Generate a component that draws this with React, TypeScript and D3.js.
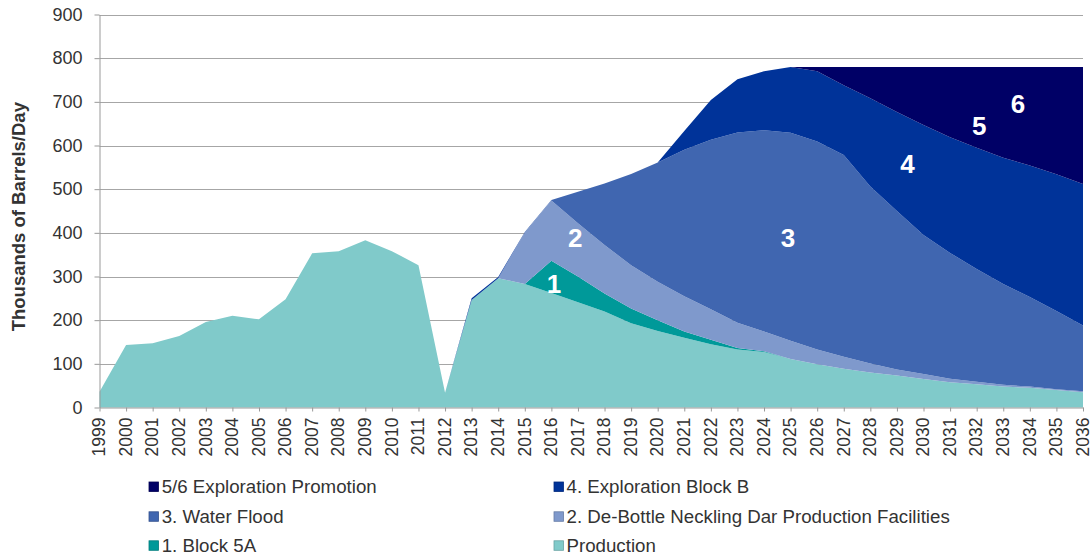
import { useEffect, useRef } from "react";
import * as d3 from "d3";

// years on the x axis
const years = [
  1999, 2000, 2001, 2002, 2003, 2004, 2005, 2006, 2007, 2008, 2009, 2010, 2011,
  2012, 2013, 2014, 2015, 2016, 2017, 2018, 2019, 2020, 2021, 2022, 2023, 2024,
  2025, 2026, 2027, 2028, 2029, 2030, 2031, 2032, 2033, 2034, 2035, 2036,
];

// thousands of barrels/day, one value per year
const production = [
  36, 143, 147, 164, 196, 210, 202, 248, 353, 358, 383, 358, 326, 34, 246, 296,
  283, 262, 241, 220, 193, 175, 160, 145, 133, 127, 111, 99, 89, 80, 73, 65, 58,
  53, 48, 45, 40, 35,
];
const block5A = [
  0, 0, 0, 0, 0, 0, 0, 0, 0, 0, 0, 0, 0, 0, 0, 0, 0, 74, 59, 41, 34, 25, 14, 10,
  3, 2, 0, 0, 0, 0, 0, 0, 0, 0, 0, 0, 0, 0,
];
const deBottle = [
  0, 0, 0, 0, 0, 0, 0, 0, 0, 0, 0, 0, 0, 0, 0, 0, 117, 138, 122, 111, 99, 88, 81,
  70, 58, 45, 42, 34, 27, 21, 14, 12, 8, 6, 4, 3, 2, 2,
];
const waterFlood = [
  0, 0, 0, 0, 0, 0, 0, 0, 0, 0, 0, 0, 0, 0, 0, 0, 2, 1, 72, 141, 209, 273, 335,
  388, 436, 461, 476, 476, 462, 405, 363, 318, 288, 258, 231, 205, 179, 151,
];
const explorationB = [
  0, 0, 0, 0, 0, 0, 0, 0, 0, 0, 0, 0, 0, 0, 4, 3, 0, 0, 0, 0, 0, 0, 43, 91, 122,
  135, 151, 161, 160, 202, 227, 252, 265, 278, 289, 301, 313, 324,
];
const exploration56 = [
  0, 0, 0, 0, 0, 0, 0, 0, 0, 0, 0, 0, 0, 0, 0, 0, 0, 0, 0, 0, 0, 0, 0, 0, 0, 0,
  0, 10, 42, 72, 103, 133, 161, 185, 208, 226, 246, 268,
];

const yTicks = [0, 100, 200, 300, 400, 500, 600, 700, 800, 900];

// stacking order, bottom first
const seriesKeys = ["production", "block5A", "deBottle", "waterFlood", "explorationB", "exploration56"];
const seriesColors = ["#80CACA", "#009999", "#7F99CC", "#4066B0", "#003399", "#000066"];

const legendRows = [
  ["exploration56", "explorationB"],
  ["waterFlood", "deBottle"],
  ["block5A", "production"],
];
const legendNames: Record<string, string> = {
  exploration56: "5/6 Exploration Promotion",
  explorationB: "4. Exploration Block B",
  waterFlood: "3. Water Flood",
  deBottle: "2. De-Bottle Neckling Dar Production Facilities",
  block5A: "1. Block 5A",
  production: "Production",
};

// white numbers written inside the areas
const areaLabels = [
  { text: "1", year: 2016.1, value: 283 },
  { text: "2", year: 2016.9, value: 389 },
  { text: "3", year: 2024.9, value: 388 },
  { text: "4", year: 2029.4, value: 559 },
  { text: "5", year: 2032.1, value: 646 },
  { text: "6", year: 2033.55, value: 697 },
];

const FONT = "'Liberation Sans', Arial, sans-serif";

export default function App() {
  const ref = useRef<HTMLDivElement>(null);

  useEffect(() => {
    const container = d3.select(ref.current);
    container.select("svg").remove();

    const W = 1092;
    const H = 556;
    const LEFT = 99.5;
    const RIGHT = 1083;
    const TOP = 14.5;
    const BOTTOM = 407.5;

    const svg = container
      .append("svg")
      .attr("width", W)
      .attr("height", H)
      .style("display", "block")
      .style("font-family", FONT);

    const x = d3.scaleLinear().domain([1999, 2036]).range([LEFT, RIGHT]);
    const y = d3.scaleLinear().domain([0, 900]).range([BOTTOM, TOP]);

    // gridlines
    svg
      .append("g")
      .selectAll("line")
      .data(yTicks.slice(1))
      .join("line")
      .attr("x1", LEFT)
      .attr("x2", RIGHT)
      .attr("y1", (d) => Math.round(y(d)) + 0.5)
      .attr("y2", (d) => Math.round(y(d)) + 0.5)
      .attr("stroke", "#A6A6A6")
      .attr("stroke-width", 1);

    // stacked areas
    const table = years.map((yr, i) => ({
      year: yr,
      production: production[i],
      block5A: block5A[i],
      deBottle: deBottle[i],
      waterFlood: waterFlood[i],
      explorationB: explorationB[i],
      exploration56: exploration56[i],
    }));
    const stacked = d3.stack<any>().keys(seriesKeys)(table);

    const area = d3
      .area<any>()
      .x((d) => x(d.data.year))
      .y0((d) => y(d[0]))
      .y1((d) => y(d[1]));

    svg
      .append("g")
      .selectAll("path")
      .data(stacked)
      .join("path")
      .attr("fill", (_, i) => seriesColors[i])
      .attr("d", area);

    // axes
    const yAxis = svg
      .append("g")
      .attr("transform", `translate(${LEFT},0)`)
      .call(d3.axisLeft(y).tickValues(yTicks).tickSize(5).tickPadding(12).tickSizeOuter(0));
    yAxis.select(".domain").attr("stroke", "#999");
    yAxis.selectAll(".tick line").attr("stroke", "#999");
    yAxis
      .selectAll(".tick text")
      .attr("fill", "#333")
      .style("font-size", "18px")
      .style("font-family", FONT);

    const xAxis = svg
      .append("g")
      .attr("transform", `translate(0,${BOTTOM})`)
      .call(
        d3
          .axisBottom(x)
          .tickValues(years)
          .tickFormat((d) => String(d))
          .tickSize(4)
          .tickSizeOuter(0)
      );
    xAxis.select(".domain").attr("stroke", "#999");
    xAxis.selectAll(".tick line").attr("stroke", "#999");
    xAxis
      .selectAll(".tick text")
      .attr("transform", "rotate(-90)")
      .attr("x", -10)
      .attr("y", 0)
      .attr("dy", "0.3em")
      .attr("fill", "#333")
      .style("text-anchor", "end")
      .style("font-size", "17.5px")
      .style("font-family", FONT);

    // y axis title
    svg
      .append("text")
      .attr("transform", `translate(24.5,216.7) rotate(-90)`)
      .attr("text-anchor", "middle")
      .attr("fill", "#333")
      .style("font-size", "18.5px")
      .style("font-weight", "bold")
      .text("Thousands of Barrels/Day");

    // white numbers
    svg
      .append("g")
      .selectAll("text")
      .data(areaLabels)
      .join("text")
      .attr("x", (d) => x(d.year))
      .attr("y", (d) => y(d.value))
      .attr("dy", "0.36em")
      .attr("text-anchor", "middle")
      .attr("fill", "#fff")
      .style("font-size", "26px")
      .style("font-weight", "bold")
      .text((d) => d.text);

    // legend
    const colX = [149, 554];
    const textX = [161.7, 566.5];
    const rowY = [486.5, 516.3, 545.3];
    legendRows.forEach((row, r) => {
      row.forEach((key, c) => {
        const color = seriesColors[seriesKeys.indexOf(key)];
        svg
          .append("rect")
          .attr("x", colX[c])
          .attr("y", rowY[r] - 4.5)
          .attr("width", 9.5)
          .attr("height", 9.5)
          .attr("fill", color)
          .attr("stroke", d3.color(color)!.darker(0.6).toString())
          .attr("stroke-width", 0.8);
        svg
          .append("text")
          .attr("x", textX[c])
          .attr("y", rowY[r])
          .attr("dy", "0.35em")
          .attr("fill", "#333")
          .style("font-size", "18.7px")
          .text(legendNames[key]);
      });
    });
  }, []);

  return (
    <div style={{ position: "absolute", left: 0, top: 0 }}>
      <div ref={ref}></div>
    </div>
  );
}
